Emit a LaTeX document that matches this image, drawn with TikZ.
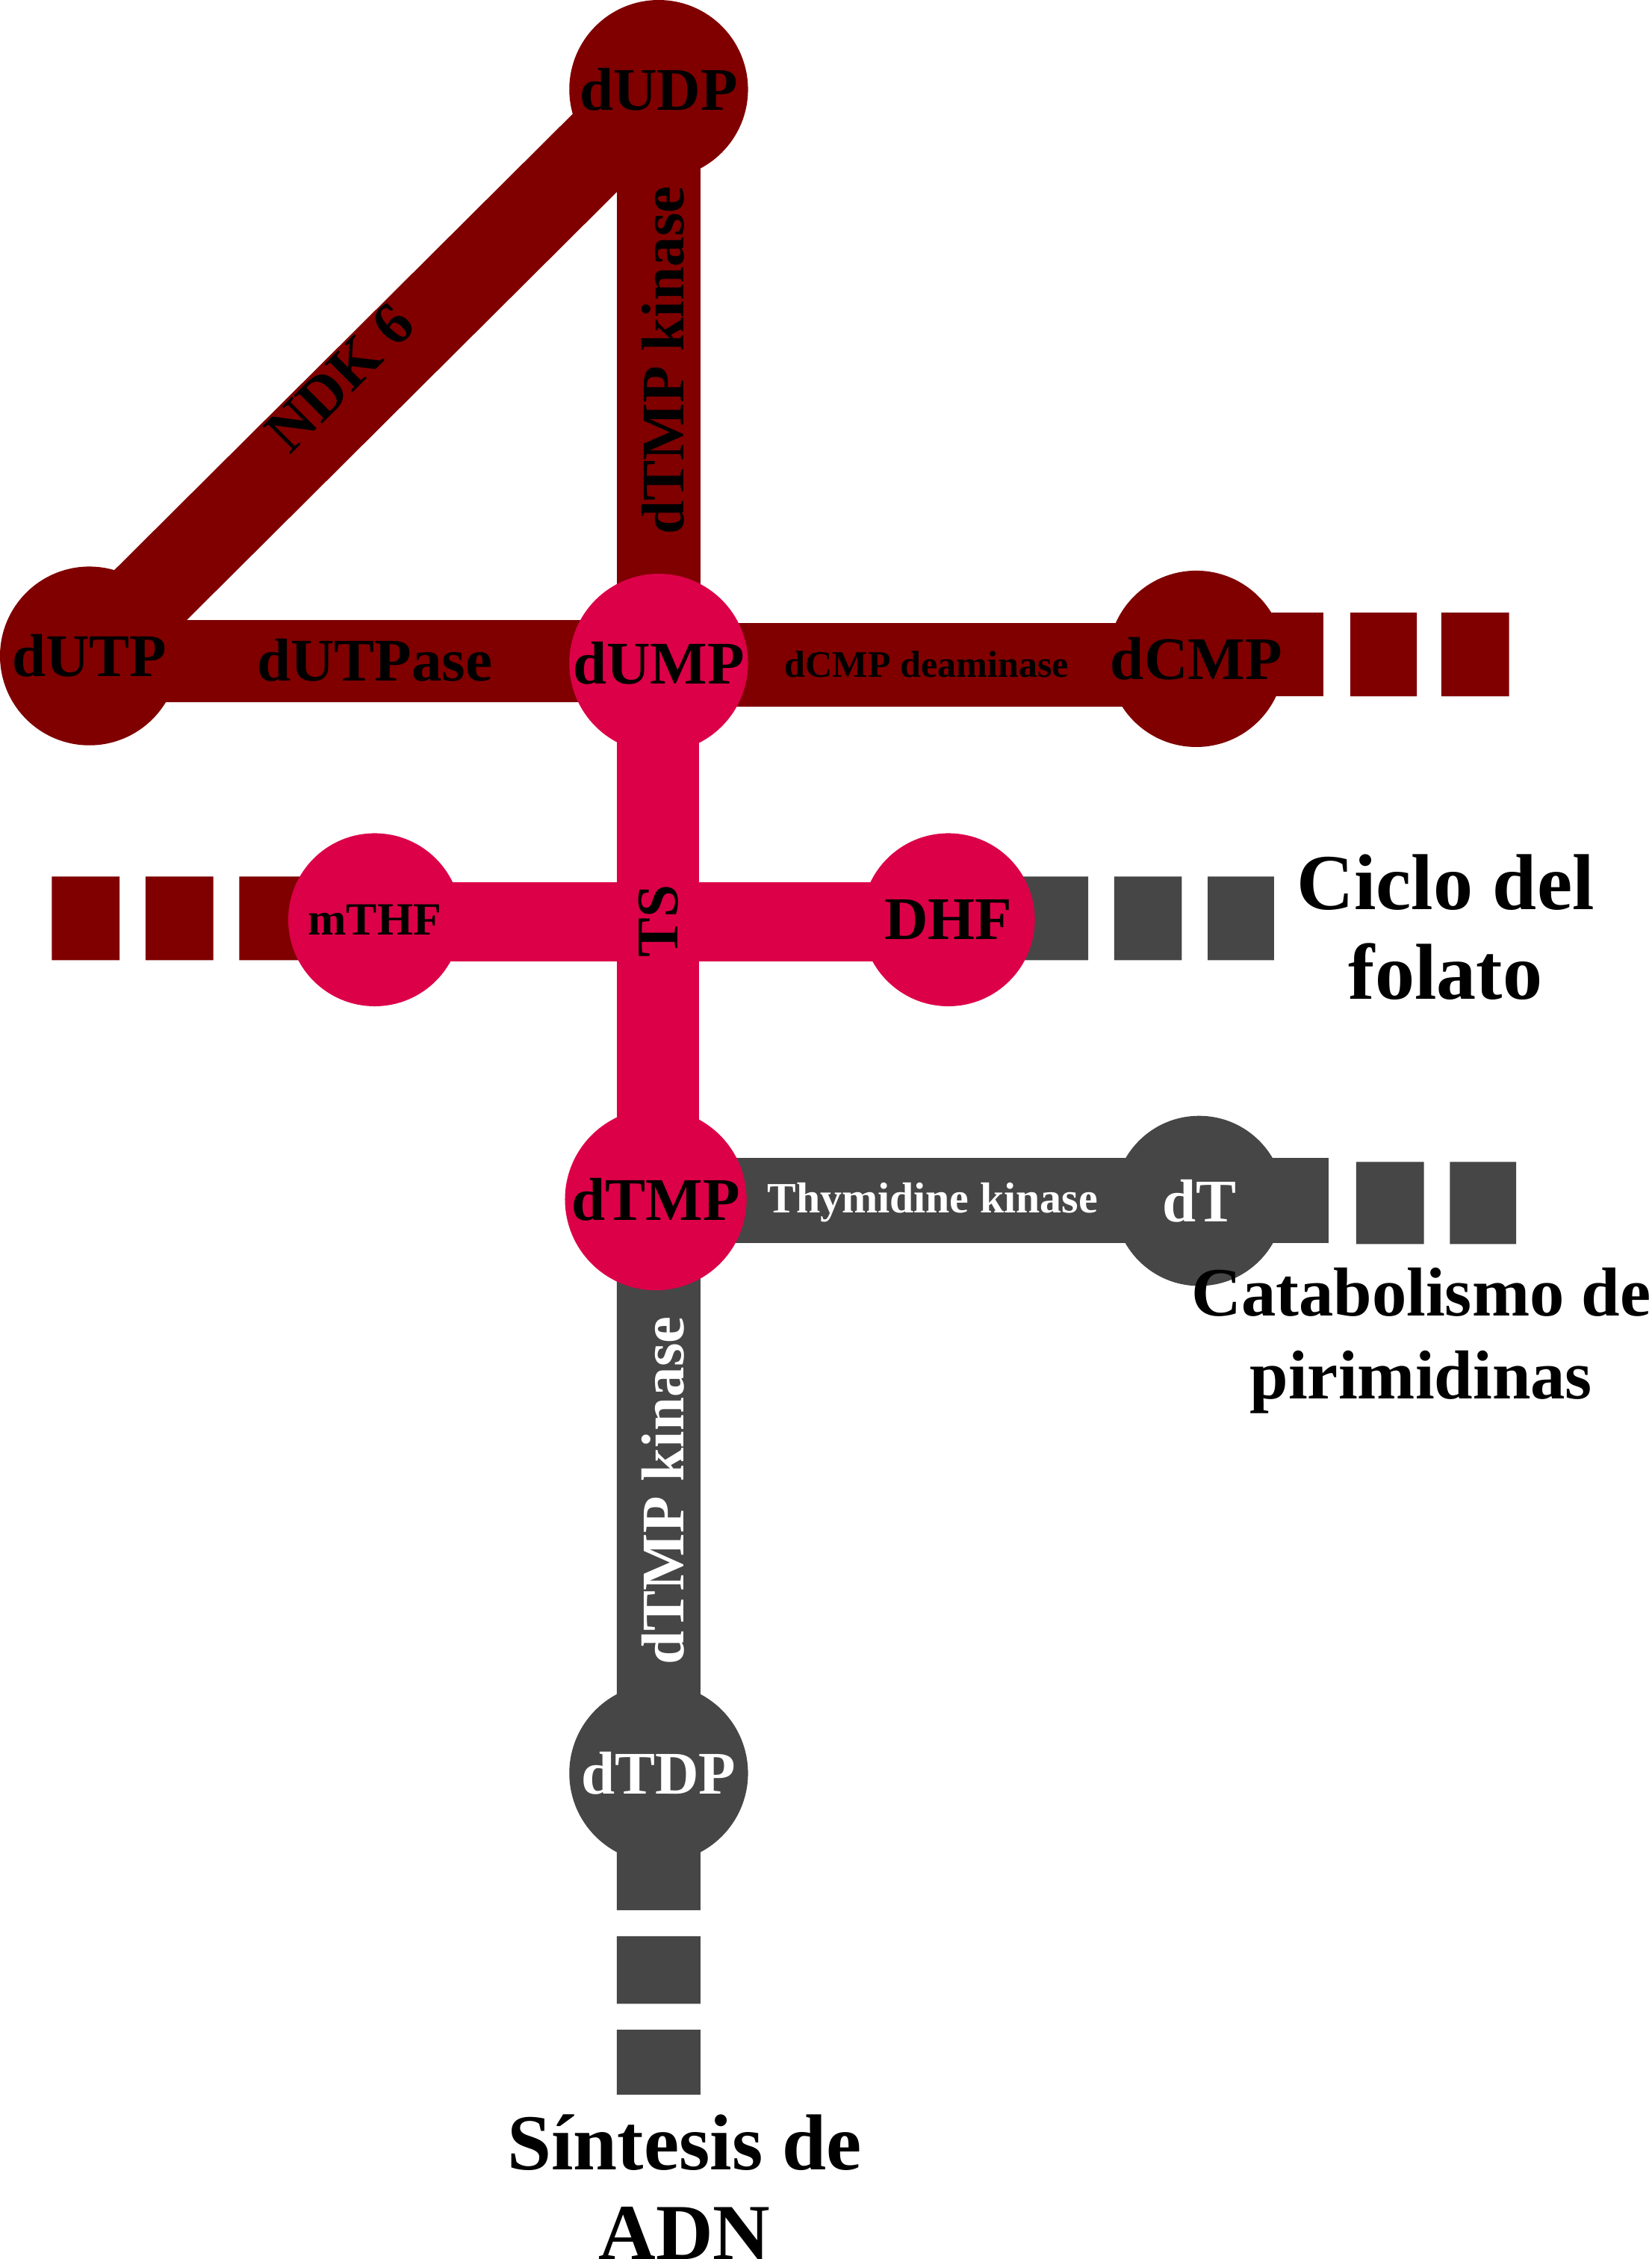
\documentclass[tikz,border=0pt]{standalone}
\usepackage{fontspec}
\setmainfont{Liberation Serif}
\definecolor{dred}{HTML}{800000}
\definecolor{crim}{HTML}{DC0048}
\definecolor{dgray}{HTML}{464646}
\begin{document}
\begin{tikzpicture}[x=1pt,y=-1pt,
  bar/.style={line width=58pt},
  circ/.style={circle,minimum size=#1pt,inner sep=0pt,font=\bfseries\fontsize{42}{44}\selectfont},
  lab/.style={font=\bfseries\fontsize{#1}{#1}\selectfont,inner sep=0pt},
  big/.style={font=\bfseries\fontsize{55}{62}\selectfont,align=center}]
\useasboundingbox (0,0) rectangle (1146,1567);
% coordinates
\coordinate (dUDPc) at (457,62);
\coordinate (dUTPc) at (62,455);
\coordinate (dUMPc) at (457,460);
\coordinate (dCMPc) at (830,457);
\coordinate (mTHFc) at (260,638);
\coordinate (DHFc) at (658,638);
\coordinate (dTMPc) at (455,832);
\coordinate (dTc) at (832,833);
\coordinate (dTDPc) at (457,1230);
% dark red bars
\draw[dred,line width=60pt] (dUTPc) -- (dUDPc);
\draw[dred,bar] (dUDPc) -- (dUMPc);
\fill[dred] (62,430) rectangle (457,487);
\fill[dred] (457,432) rectangle (830,490);
\fill[dred] (830,425) rectangle (918,483);
\fill[dred] (937,425) rectangle (983,483) (1000,425) rectangle (1047,483);
\fill[dred] (36,608) rectangle (83,666) (101,608) rectangle (148,666) (166,608) rectangle (260,666);
% gray bars
\fill[dgray] (658,608) rectangle (755,666) (773,608) rectangle (820,666) (838,608) rectangle (884,666);
\fill[dgray] (455,803) rectangle (922,862);
\fill[dgray] (941,806) rectangle (988,863) (1006,806) rectangle (1052,863);
\fill[dgray] (428,832) rectangle (486,1325) (428,1343) rectangle (486,1390) (428,1408) rectangle (486,1453);
% crimson bars
\fill[crim] (260,612) rectangle (658,667);
\fill[crim] (428,460) rectangle (485,832);
% circles
\node[circ=124,fill=dred] (dUDP) at (dUDPc) {dUDP};
\node[circ=124,fill=dred] (dUTP) at (dUTPc) {dUTP};
\node[circ=120,fill=dred] (dCMP) at (dCMPc) {dCMP};
\node[circ=124,fill=crim] (dUMP) at (dUMPc) {dUMP};
\node[circ=120,fill=crim,font=\bfseries\fontsize{32}{34}\selectfont] (mTHF) at (mTHFc) {mTHF};
\node[circ=120,fill=crim] (DHF) at (DHFc) {DHF};
\node[circ=126,fill=crim] (dTMP) at (dTMPc) {dTMP};
\node[circ=118,fill=dgray,text=white] (dT) at (dTc) {dT};
\node[circ=124,fill=dgray,text=white] (dTDP) at (dTDPc) {dTDP};
% labels
\node[lab=42,rotate=45] (ndk) at (236,262) {NDK 6};
\node[lab=42,rotate=90] (k1) at (460,250) {dTMP kinase};
\node[lab=42] (dutpase) at (260,458) {dUTPase};
\node[lab=26] (dcmpd) at (643,461) {dCMP deaminase};
\node[lab=41,rotate=90] (ts) at (457,639) {TS};
\node[lab=30,text=white] (tk) at (647,834) {Thymidine kinase};
\node[lab=42,rotate=90,text=white] (k2) at (460,1034) {dTMP kinase};
\node[big] (folato) at (1003,643) {Ciclo del\\folato};
\node[big,font=\bfseries\fontsize{48}{58}\selectfont] (catab) at (986,930) {Catabolismo de\\pirimidinas};
\node[big] (sint) at (475,1517) {Síntesis de\\ADN};
\end{tikzpicture}
\end{document}
